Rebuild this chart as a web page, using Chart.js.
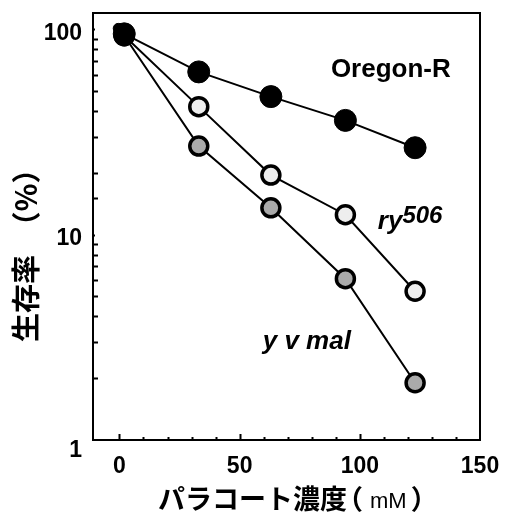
<!DOCTYPE html>
<html><head><meta charset="utf-8">
<script src="https://cdn.jsdelivr.net/npm/chart.js@4"></script>
<style>html,body{margin:0;padding:0;background:#fff}</style>
</head><body>
<canvas id="c" width="506" height="513"></canvas>
<script>
// ---- data ----
const doses      = [2, 33, 63, 94, 123];
const oregonR    = [95, 62, 47, 36, 26.5];
const ry506      = [93, 42, 19.5, 12.5, 5.3];
const yvmal      = [93, 27, 13.5, 6.1, 1.9];
const originDose = [-0.5];
const originVal  = [101];
const xTickLabels = [0, 50, 100, 150];
const yTickLabels = [1, 10, 100];
const seriesNames = ['Oregon-R', 'ry', '506', 'y v mal'];
const xTitleParts = ['パラコート濃度', '（', 'mM', '）'];
const yTitle = '生存率　（%）';

const pts = (xs, ys) => xs.map((x, i) => ({x, y: ys[i]}));
const LAT = "'Liberation Sans', Arial, sans-serif";
const CJK = "'Noto Sans CJK JP', sans-serif";

const decor = {
  id: 'decor',
  beforeDatasetsDraw(chart) {
    const {ctx, chartArea: a, scales: {x, y}} = chart;
    ctx.save();
    ctx.strokeStyle = '#000';
    ctx.lineWidth = 2;
    ctx.strokeRect(a.left, a.top, a.right - a.left, a.bottom - a.top);
    ctx.beginPath();
    x.ticks.forEach(t => {
      const v = t.value;
      if (v % 10 !== 0 || v <= x.min || v >= x.max) return;
      const px = Math.round(x.getPixelForValue(v)) + 0.5;
      const len = v % 50 === 0 ? 6 : 3;
      ctx.moveTo(px, a.bottom);
      ctx.lineTo(px, a.bottom - len);
    });
    y.ticks.forEach(t => {
      const v = t.value;
      if (v <= y.min || v >= y.max) return;
      const py = Math.round(y.getPixelForValue(v)) + 0.5;
      const len = yTickLabels.includes(v) ? 2 : 5;
      ctx.moveTo(a.left, py);
      ctx.lineTo(a.left + len, py);
    });
    ctx.stroke();
    ctx.restore();
  },
  afterDatasetsDraw(chart) {
    const {ctx, chartArea: a, scales: {x, y}} = chart;
    ctx.save();
    ctx.fillStyle = '#000';
    ctx.font = 'bold 26px ' + LAT;
    ctx.textAlign = 'center';
    ctx.textBaseline = 'middle';
    ctx.fillText(seriesNames[0], x.getPixelForValue(112.9), y.getPixelForValue(63.2));
    ctx.textAlign = 'left';
    ctx.textBaseline = 'alphabetic';
    ctx.font = 'italic bold 26px ' + LAT;
    const rx = x.getPixelForValue(107.5), ryb = y.getPixelForValue(10.6);
    ctx.fillText(seriesNames[1], rx, ryb);
    const w = ctx.measureText(seriesNames[1]).width;
    ctx.font = 'italic bold 24px ' + LAT;
    ctx.fillText(seriesNames[2], rx + w, ryb - 6);
    ctx.font = 'italic bold 26px ' + LAT;
    ctx.fillText(seriesNames[3], x.getPixelForValue(59.6), y.getPixelForValue(2.765));

    // x axis title with mixed fonts
    const base = chart.height - 4;
    const f0 = 'bold 27px ' + CJK, f2 = '22px ' + LAT;
    ctx.font = f0;
    const w0 = ctx.measureText(xTitleParts[0]).width;
    const wp = ctx.measureText(xTitleParts[1]).width;
    ctx.font = f2;
    const w2 = ctx.measureText(xTitleParts[2]).width;
    let px = a.left + 65;
    ctx.font = f0;
    ctx.fillText(xTitleParts[0], px, base); px += w0 - 11;
    ctx.fillText(xTitleParts[1], px, base); px += wp + 7;
    ctx.font = f2;
    ctx.fillText(xTitleParts[2], px, base - 1); px += w2 + 4;
    ctx.font = f0;
    ctx.fillText(xTitleParts[3], px, base);
    ctx.restore();
  }
};

const lineDs = (label, ys, fill, radius, bw) => ({
  label,
  data: pts(doses, ys),
  showLine: true,
  borderColor: '#000',
  borderWidth: 2,
  pointRadius: radius,
  pointHoverRadius: radius,
  pointBorderWidth: bw,
  pointBorderColor: '#000',
  pointBackgroundColor: c => c.dataIndex === 0 ? '#000' : fill
});

const zeroPad = s => { s.paddingTop = 0; s.paddingBottom = 0; s.paddingLeft = 0; s.paddingRight = 0; };

new Chart(document.getElementById('c'), {
  type: 'scatter',
  data: {
    datasets: [
      lineDs('Oregon-R', oregonR, '#000', 11, 1),
      lineDs('ry506', ry506, '#eeeeee', 9, 3.5),
      lineDs('y v mal', yvmal, '#aaaaaa', 9, 3.5),
      {label: 'origin', data: pts(originDose, originVal), showLine: false,
       pointRadius: 5, pointBackgroundColor: '#000', pointBorderColor: '#000', pointBorderWidth: 1}
    ]
  },
  options: {
    responsive: false,
    devicePixelRatio: 1,
    animation: false,
    layout: {padding: {top: 13, right: 26, left: 0, bottom: 0}},
    plugins: {legend: {display: false}, tooltip: {enabled: false}},
    scales: {
      x: {
        type: 'linear', min: -11, max: 150,
        grid: {display: false, drawTicks: false},
        border: {display: false},
        afterFit: s => { s.height = 73; zeroPad(s); },
        ticks: {
          stepSize: 10, autoSkip: false, maxRotation: 0, padding: 13,
          color: '#000', font: {family: LAT, size: 23, weight: 'bold'},
          callback: v => xTickLabels.includes(v) ? String(v) : ''
        },
        title: {display: false}
      },
      y: {
        type: 'logarithmic', min: 1, max: 120,
        grid: {display: false, drawTicks: false},
        border: {display: false},
        afterFit: s => { s.width = 93; zeroPad(s); },
        ticks: {
          autoSkip: false, padding: 11, labelOffset: 4,
          color: '#000',
          font: c => ({family: LAT, size: 23, weight: 'bold',
                       lineHeight: (c.tick && c.tick.value === 1) ? 0.6 : 1.2}),
          callback: v => v === 1 ? ['', '1'] : (yTickLabels.includes(v) ? String(v) : '')
        },
        title: {display: true, text: yTitle + '　　', color: '#000',
          font: {family: CJK, size: 29, weight: 'bold', lineHeight: 1},
          padding: {top: 11, bottom: 0}}
      }
    }
  },
  plugins: [decor]
});
</script>
</body></html>
